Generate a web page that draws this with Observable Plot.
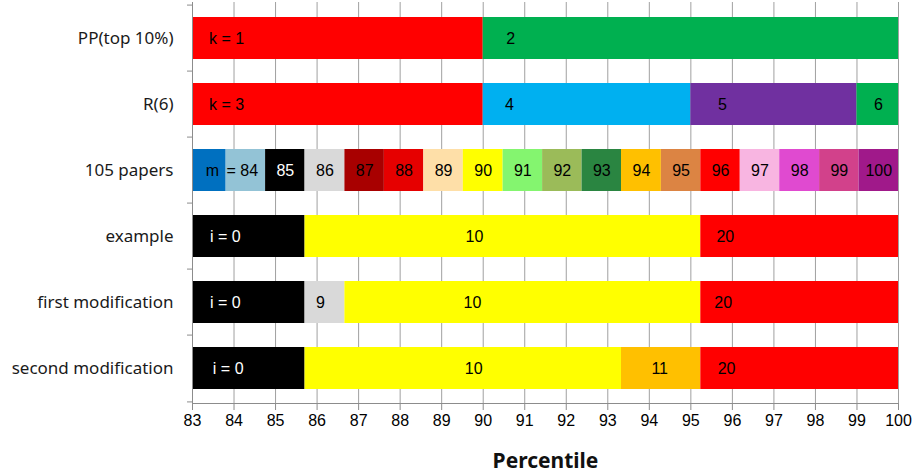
<!DOCTYPE html>
<html>
<head>
<meta charset="utf-8">
<script src="https://cdn.jsdelivr.net/npm/d3@7"></script>
<script src="https://cdn.jsdelivr.net/npm/@observablehq/plot@0.6"></script>
<style>
  html, body { margin: 0; padding: 0; background: white; }
  #title { font-family: "Noto Sans", sans-serif; font-weight: bold; font-size: 21px; color: #111;
           width: 915px; text-align: center; padding-left: 176px; box-sizing: border-box; margin-top: 6px; }
</style>
</head>
<body>
<div id="chart"></div>
<div id="title">Percentile</div>
<script>
const categories = ["PP(top 10%)", "R(6)", "105 papers", "example", "first modification", "second modification"];
const xTicks = [83, 84, 85, 86, 87, 88, 89, 90, 91, 92, 93, 94, 95, 96, 97, 98, 99, 100];

const ppLabels = ["k = 1", "2"];
const ppBounds = [83, 90, 100];
const ppColors = ["#FF0000", "#00B050"];
const ppLabelAt = [83.82, 90.66];

const rLabels = ["k = 3", "4", "5", "6"];
const rBounds = [83, 90, 95, 99, 100];
const rColors = ["#FF0000", "#00B0F0", "#7030A0", "#00B050"];
const rLabelAt = [83.82, 90.63, 95.76, 99.52];

const papersLabels = ["m", "= 84", "85", "86", "87", "88", "89", "90", "91", "92", "93", "94", "95", "96", "97", "98", "99", "100"];
const papersBounds = [83, 83.81, 84.76, 85.71, 86.67, 87.62, 88.57, 89.52, 90.48, 91.43, 92.38, 93.33, 94.29, 95.24, 96.19, 97.14, 98.10, 99.05, 100];
const papersColors = ["#0070C0", "#93C3D6", "#000000", "#D9D9D9", "#A80000", "#E60000", "#FEDFA8", "#FFFF00", "#84F56F",
                      "#9BBB59", "#2A8541", "#FFC000", "#DC8443", "#FF0000", "#F8B5E1", "#E04AD0", "#D2418B", "#A0198A"];
const papersLabelAt = [83.48, 84.2, null, null, null, null, null, null, null, null, null, null, null, null, null, null, null, null];

const exampleLabels = ["i = 0", "10", "20"];
const exampleBounds = [83, 85.71, 95.24, 100];
const exampleColors = ["#000000", "#FFFF00", "#FF0000"];
const exampleLabelAt = [83.79, 89.79, 95.83];

const firstLabels = ["i = 0", "9", "10", "20"];
const firstBounds = [83, 85.71, 86.67, 95.24, 100];
const firstColors = ["#000000", "#D9D9D9", "#FFFF00", "#FF0000"];
const firstLabelAt = [83.79, 86.08, 89.74, 95.78];

const secondLabels = ["i = 0", "10", "11", "20"];
const secondBounds = [83, 85.71, 93.33, 95.24, 100];
const secondColors = ["#000000", "#FFFF00", "#FFC000", "#FF0000"];
const secondLabelAt = [83.86, 89.77, 94.25, 95.86];

const segments = [];
function addRow(cat, labels, bounds, colors, at) {
  labels.forEach((label, i) => {
    segments.push({
      cat, label,
      x1: bounds[i], x2: bounds[i + 1],
      color: colors[i],
      at: at[i] != null ? at[i] : (bounds[i] + bounds[i + 1]) / 2
    });
  });
}
addRow(categories[0], ppLabels, ppBounds, ppColors, ppLabelAt);
addRow(categories[1], rLabels, rBounds, rColors, rLabelAt);
addRow(categories[2], papersLabels, papersBounds, papersColors, papersLabelAt);
addRow(categories[3], exampleLabels, exampleBounds, exampleColors, exampleLabelAt);
addRow(categories[4], firstLabels, firstBounds, firstColors, firstLabelAt);
addRow(categories[5], secondLabels, secondBounds, secondColors, secondLabelAt);

const H = 440, MT = 2, MB = 37;
const step = (H - MT - MB) / categories.length;

const chart = Plot.plot({
  width: 915,
  height: H,
  marginLeft: 192,
  marginRight: 17,
  marginTop: MT,
  marginBottom: MB,
  style: { fontFamily: "Liberation Sans, Arial, sans-serif", fontSize: "16px", color: "#000", background: "white" },
  x: { domain: [83, 100], label: null },
  y: { domain: categories, paddingInner: 0.37, paddingOuter: 0.185, label: null },
  marks: [
    Plot.ruleX(xTicks.slice(1), { stroke: "#A0A0A0", strokeWidth: 1 }),
    Plot.barX(segments, { x1: "x1", x2: "x2", y: "cat", fill: "color" }),
    Plot.text(segments, {
      x: "at", y: "cat", text: "label",
      fill: d => d.color === "#000000" ? "white" : "black",
      fontSize: 16, fontFamily: "Liberation Sans, Arial, sans-serif"
    }),
    Plot.frame({ anchor: "bottom", stroke: "#8C8C8C" }),
    Plot.frame({ anchor: "left", stroke: "#8C8C8C" }),
    Plot.axisX({ ticks: xTicks, tickFormat: d => String(d), tickSize: 7, tickPadding: 4, stroke: "#8C8C8C", fill: "black", label: null, fontSize: 16 }),
    Plot.axisY({ tickSize: 0, tickPadding: 19, fill: "#1a1a1a", fontFamily: "Noto Sans, sans-serif", fontSize: 17, label: null }),
    Plot.ruleY(categories, { y: d => d, x1: 82.88, x2: 83, dy: -step / 2, stroke: "#8C8C8C" }),
    Plot.ruleY(categories.slice(-1), { y: d => d, x1: 82.88, x2: 83, dy: step / 2, stroke: "#8C8C8C" })
  ]
});
document.getElementById("chart").appendChild(chart);
</script>
</body>
</html>
